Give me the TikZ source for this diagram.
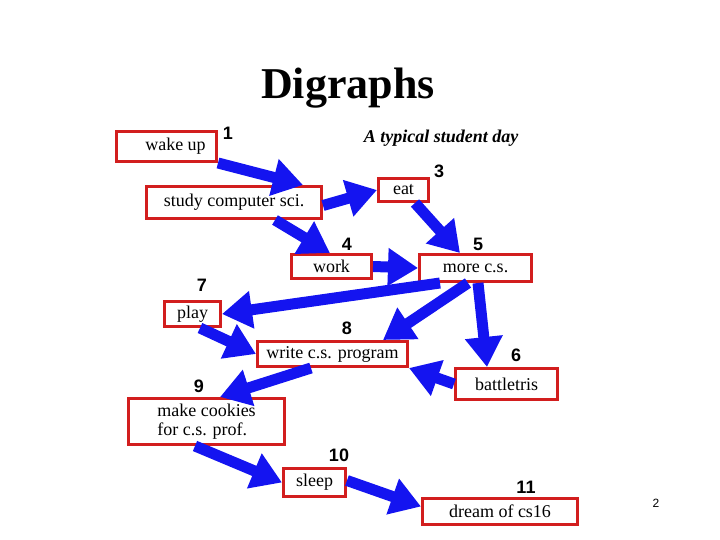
\documentclass[tikz,border=0pt]{standalone}
\usepackage{fontspec}
\setmainfont{Liberation Serif}
\newfontfamily\numfont{Liberation Sans}
\usetikzlibrary{arrows.meta}
\definecolor{boxred}{RGB}{210,30,30}
\definecolor{arrblue}{RGB}{20,20,240}
\tikzset{
  box/.style={draw=boxred, line width=3pt, anchor=north west, inner sep=0pt,
    font=\fontsize{18}{19}\selectfont},
  num/.style={font=\numfont\bfseries\fontsize{18}{18}\selectfont},
  arr/.style={arrblue, line width=11pt, -{Triangle[length=30pt,width=36pt]}}
}
\begin{document}
\begin{tikzpicture}[x=1pt, y=-1pt]
  \useasboundingbox (0,0) rectangle (720,540);
  % title
  \node (title) at (348,88) {\bfseries\fontsize{44}{44}\selectfont Digraphs};
  \node (sub) at (441,138) {\bfseries\itshape\fontsize{18}{18}\selectfont A typical student day};
  % boxes
  \node[box, minimum width=100, minimum height=30] (wake) at (115,130) {\quad wake up};
  \node[box, minimum width=175, minimum height=32] (study) at (145,185) {study computer sci.};
  \node[box, minimum width=50, minimum height=23] (eat) at (377,177) {eat};
  \node[box, minimum width=80, minimum height=24] (work) at (290,253) {work};
  \node[box, minimum width=112, minimum height=27] (more) at (418,253) {more c.s.};
  \node[box, minimum width=56, minimum height=25] (play) at (163,300) {play};
  \node[box, minimum width=150, minimum height=25] (write) at (256,340) {write c.s. program};
  \node[box, minimum width=102, minimum height=31] (battle) at (454,367) {battletris};
  \node[box, minimum width=156, minimum height=46, align=left] (cookies) at (127,397) {make cookies\\for c.s. prof.};
  \node[box, minimum width=62, minimum height=28] (sleep) at (282,467) {sleep};
  \node[box, minimum width=155, minimum height=26] (dream) at (421,497) {dream of cs16};
  % numbers
  \node[num] (n1) at (228,133) {1};
  \node[num] (n2) at (284,175) {2};
  \node[num] (n3) at (439,171) {3};
  \node[num] (n4) at (347,244) {4};
  \node[num] (n5) at (478,244) {5};
  \node[num] (n7) at (202,285) {7};
  \node[num] (n8) at (347,328) {8};
  \node[num] (n6) at (516,355) {6};
  \node[num] (n9) at (199,386) {9};
  \node[num] (n10) at (339,455) {10};
  \node[num] (n11) at (526,487) {11};
  \node[font=\numfont\fontsize{12}{12}\selectfont] (page) at (656,503) {2};
  % edges
  \draw[arr] (wake.south east) -- ([xshift=-20pt]study.north east);
  \draw[arr] ([yshift=-3pt]study.east) -- (eat.west);
  \draw[arr] ([xshift=130pt]study.south west) -- ([xshift=40pt]work.north west);
  \draw[arr] ([xshift=38pt]eat.south west) -- ([xshift=42pt]more.north west);
  \draw[arr] (work.east) -- (more.west);
  \draw[arr] ([xshift=22pt]more.south west) -- (play.east);
  \draw[arr] ([xshift=50pt]more.south west) -- ([xshift=127pt]write.north west);
  \draw[arr] ([xshift=60pt]more.south west) -- ([xshift=33pt]battle.north west);
  \draw[arr] ([xshift=37pt]play.south west) -- (write.west);
  \draw[arr] (battle.west) -- (write.south east);
  \draw[arr] ([xshift=55pt]write.south west) -- ([xshift=93pt]cookies.north west);
  \draw[arr] ([xshift=68pt]cookies.south west) -- (sleep.west);
  \draw[arr] ([yshift=2pt]sleep.east) -- ([yshift=5pt]dream.west);
\end{tikzpicture}
\end{document}
